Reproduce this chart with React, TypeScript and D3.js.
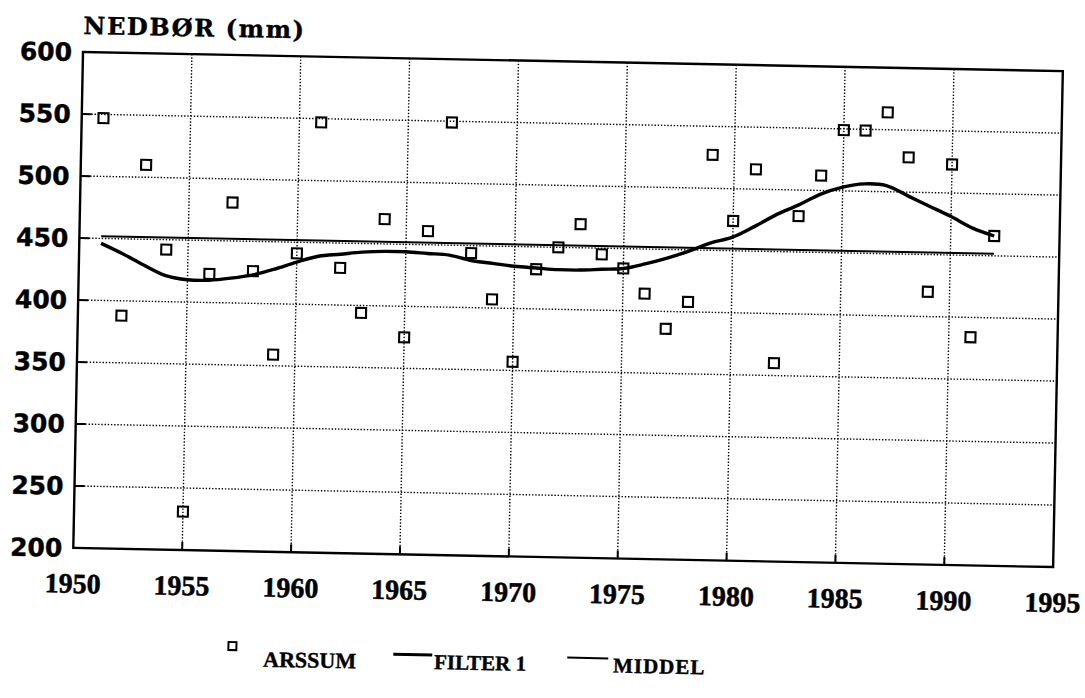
import React from 'react';
import * as d3 from 'd3';

const years = [1951,1952,1953,1954,1955,1956,1957,1958,1959,1960,1961,1962,1963,1964,1965,1966,1967,1968,1969,1970,1971,1972,1973,1974,1975,1976,1977,1978,1979,1980,1981,1982,1983,1984,1985,1986,1987,1988,1989,1990,1991,1992];
const arssum = [547,388,510,442,231,423,481,426,359,441,547,430,394,470,375,461,549,444,407,357,432,450,469,445,434,414,386,408,527,474,516,360,479,512,549,549,564,528,420,523,384,466];
const filter1 = [446,438,429,421,418,418,420,423,428,434,439,441,443,444,444,443,442,438,436,434,433,432,432,433,434,438,443,449,456,461,470,480,488,497,503,506,505,497,489,481,472,466];
const xTicks = [1950,1955,1960,1965,1970,1975,1980,1985,1990,1995];
const yTicks = [200,250,300,350,400,450,500,550,600];
const yTitle = 'NEDBØR (mm)';
const legendLabels = ['ARSSUM', 'FILTER 1', 'MIDDEL'];

export default function App() {
  const W = 980, H = 496;
  const x = d3.scaleLinear().domain([1950, 1995]).range([0, W]);
  const y = d3.scaleLinear().domain([200, 600]).range([H, 0]);
  const middel = d3.mean(arssum) as number;
  const filterPath = d3.line<number>()
    .x((_, i) => x(years[i]))
    .y(d => y(d))
    .curve(d3.curveCatmullRom.alpha(0.5))(filter1) || '';
  const middelPath = d3.line<number>()
    .x(d => x(d))
    .y(() => y(middel))([years[0], years[years.length - 1]]) || '';

  const innerX = xTicks.slice(1, -1);
  const innerY = yTicks.slice(1, -1);
  const sq = 10;

  return (
    <svg width={1085} height={698} style={{ position: 'absolute', left: 0, top: 0, background: '#fff' }}>
      <rect x={0} y={0} width={1085} height={698} fill="#fff" />
      <g transform="translate(83,52) rotate(1.12)">
        {innerX.map(t => (
          <g key={'gx' + t}>
            <line x1={x(t)} x2={x(t)} y1={0} y2={H} stroke="#000" strokeWidth={1.4} strokeDasharray="1.4,1.8" />
            <line x1={x(t)} x2={x(t)} y1={H} y2={H - 8} stroke="#000" strokeWidth={2} />
          </g>
        ))}
        {innerY.map(t => (
          <g key={'gy' + t}>
            <line x1={0} x2={W} y1={y(t)} y2={y(t)} stroke="#000" strokeWidth={1.4} strokeDasharray="1.4,1.8" />
            <line x1={0} x2={10} y1={y(t)} y2={y(t)} stroke="#000" strokeWidth={2} />
          </g>
        ))}
        <rect x={0} y={0} width={W} height={H} fill="none" stroke="#000" strokeWidth={2.4} />
        <path d={middelPath} fill="none" stroke="#000" strokeWidth={2} />
        <path d={filterPath} fill="none" stroke="#000" strokeWidth={3.4} strokeLinejoin="round" />
        {arssum.map((v, i) => (
          <rect key={'p' + i} x={x(years[i]) - sq / 2} y={y(v) - sq / 2} width={sq} height={sq}
            fill="none" stroke="#000" strokeWidth={2.1} />
        ))}
        {yTicks.map(t => (
          <text key={'yl' + t} x={-11} y={y(t)} dy="0.36em" textAnchor="end"
            fontFamily="DejaVu Sans" fontWeight="bold" fontSize={25} stroke="#000" strokeWidth={0.4}>{t}</text>
        ))}
        {xTicks.map(t => (
          <text key={'xl' + t} x={x(t)} y={H + 45} textAnchor="middle"
            fontFamily="Liberation Serif" fontWeight="bold" fontSize={28} stroke="#000" strokeWidth={0.5}>{t}</text>
        ))}
        <text x={0} y={-18} fontFamily="DejaVu Serif" fontWeight="bold" fontSize={24} letterSpacing={1.6}
          stroke="#000" strokeWidth={0.4}>{yTitle}</text>
        <rect x={157} y={587} width={8} height={8} fill="none" stroke="#000" strokeWidth={2} />
        <text x={192} y={611} fontFamily="Liberation Serif" fontWeight="bold" fontSize={22} stroke="#000" strokeWidth={0.4}>{legendLabels[0]}</text>
        <line x1={322} x2={361} y1={596} y2={596} stroke="#000" strokeWidth={3} />
        <text x={363} y={610} fontFamily="Liberation Serif" fontWeight="bold" fontSize={21} stroke="#000" strokeWidth={0.4}>{legendLabels[1]}</text>
        <line x1={496} x2={537} y1={596} y2={596} stroke="#000" strokeWidth={2} />
        <text x={542} y={610} fontFamily="Liberation Serif" fontWeight="bold" fontSize={21} letterSpacing={1} stroke="#000" strokeWidth={0.4}>{legendLabels[2]}</text>
      </g>
    </svg>
  );
}
